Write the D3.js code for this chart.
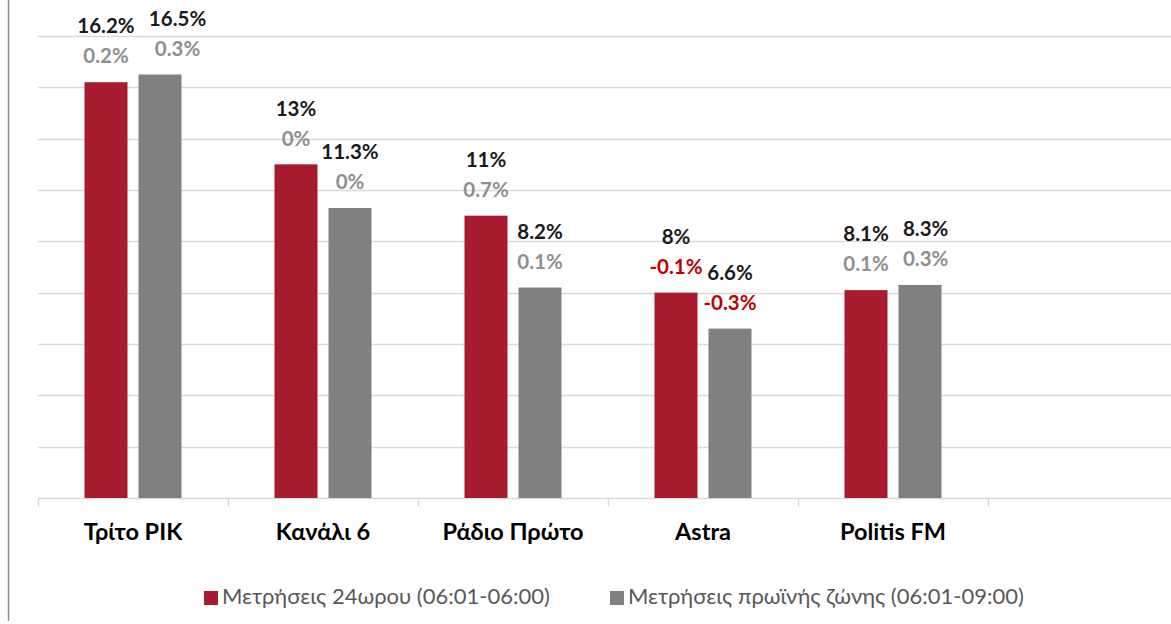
<!DOCTYPE html>
<html>
<head>
<meta charset="utf-8">
<script src="https://cdn.jsdelivr.net/npm/d3@7"></script>
<style>
  body { margin: 0; background: #fff; }
  svg { display: block; font-family: Lato, "Open Sans", sans-serif; }
</style>
</head>
<body>
<svg></svg>
<script>
// chart data
var stations = ["Τρίτο ΡΙΚ", "Κανάλι 6", "Ράδιο Πρώτο", "Astra", "Politis FM", ""];
var seriesNames = ["Μετρήσεις 24ωρου (06:01-06:00)", "Μετρήσεις πρωϊνής ζώνης (06:01-09:00)"];
var dayShare = [16.2, 13, 11, 8, 8.1];
var morningShare = [16.5, 11.3, 8.2, 6.6, 8.3];
var dayChange = [0.2, 0, 0.7, -0.1, 0.1];
var morningChange = [0.3, 0, 0.1, -0.3, 0.3];
var yTicks = [0, 2, 4, 6, 8, 10, 12, 14, 16, 18];

var width = 1171;
var height = 624;
var colors = ["#a81a2e", "#808080"];

var svg = d3.select("svg")
            .attr("width", width)
            .attr("height", height);

var xScale = d3.scaleBand()
                .domain(stations)
                .range([38, 1178]);

var xInner = d3.scaleBand()
                .domain([0, 1])
                .range([46.5, 143.5])
                .paddingInner(0.2037);

var yScale = d3.scaleLinear()
                .domain([0, 18])
                .range([498, 36]);

// frame line on the left
svg.append("line")
    .attr("x1", 8.5).attr("x2", 8.5)
    .attr("y1", 0).attr("y2", 621)
    .attr("stroke", "#8c8c8c")
    .attr("stroke-width", 1.5);

// gridlines
svg.append("g")
    .selectAll("line")
    .data(yTicks)
    .enter()
    .append("line")
        .attr("x1", 38)
        .attr("x2", width)
        .attr("y1", d => Math.round(yScale(d)) + 0.5)
        .attr("y2", d => Math.round(yScale(d)) + 0.5)
        .attr("stroke", "#d9d9d9")
        .attr("stroke-width", 1.5);

// category separators under the axis
svg.append("g")
    .attr("transform", "translate(0," + (Math.round(yScale(0)) + 0.5) + ")")
    .selectAll("line")
    .data(stations)
    .enter()
    .append("line")
        .attr("x1", d => xScale(d) + 0.5)
        .attr("x2", d => xScale(d) + 0.5)
        .attr("y1", 0)
        .attr("y2", 8)
        .attr("stroke", "#d9d9d9")
        .attr("stroke-width", 1.5);

var rows = stations.slice(0, 5).map((s, i) => ({
    station: s,
    values: [
        {k: 0, v: dayShare[i], c: dayChange[i]},
        {k: 1, v: morningShare[i], c: morningChange[i]}
    ]
}));

var groups = svg.selectAll("g.station")
    .data(rows)
    .enter()
    .append("g")
        .attr("class", "station")
        .attr("transform", d => "translate(" + xScale(d.station) + ",0)");

groups.selectAll("rect")
    .data(d => d.values)
    .enter()
    .append("rect")
        .attr("x", d => xInner(d.k))
        .attr("y", d => yScale(d.v))
        .attr("width", xInner.bandwidth())
        .attr("height", d => yScale(0) - yScale(d.v))
        .attr("fill", d => colors[d.k]);

// label pairs (value + change) above each bar
var labels = groups.selectAll("g.lbl")
    .data(d => d.values)
    .enter()
    .append("g")
        .attr("class", "lbl")
        .attr("transform", d => "translate(" + (xInner(d.k) + xInner.bandwidth() / 2) + ",0)");

labels.append("text")
    .attr("class", "val")
    .attr("y", d => yScale(d.v) - 54)
    .attr("text-anchor", "middle")
    .attr("dominant-baseline", "middle")
    .attr("font-size", 20.5)
    .attr("font-weight", "bold")
    .attr("fill", "#1a1a1a")
    .text(d => d.v + "%");

labels.append("text")
    .attr("class", "chg")
    .attr("y", d => yScale(d.v) - 24)
    .attr("text-anchor", "middle")
    .attr("dominant-baseline", "middle")
    .attr("font-size", 20.5)
    .attr("font-weight", "bold")
    .attr("fill", d => d.c < 0 ? "#c00000" : "#8f8f8f")
    .text(d => d.c + "%");

// push the second label pair right when it collides with the first
groups.each(function() {
    var pair = d3.select(this).selectAll("g.lbl").nodes();
    var a = pair[0].querySelector("text.val").getBBox();
    var b = pair[1].querySelector("text.val").getBBox();
    var d0 = d3.select(pair[0]).datum(), d1 = d3.select(pair[1]).datum();
    var ax = xInner(0) + xInner.bandwidth() / 2, bx = xInner(1) + xInner.bandwidth() / 2;
    var closeY = Math.abs(yScale(d0.v) - yScale(d1.v)) < 25;
    var overlap = (ax + a.width / 2 + 14) - (bx - b.width / 2);
    if (closeY && overlap > 0) {
        d3.select(pair[1]).attr("transform", "translate(" + (bx + overlap) + ",0)");
    }
});

// category labels
svg.append("g")
    .selectAll("text")
    .data(stations)
    .enter()
    .append("text")
        .attr("x", d => xScale(d) + xScale.bandwidth() / 2)
        .attr("y", 534)
        .attr("text-anchor", "middle")
        .attr("dominant-baseline", "middle")
        .attr("font-size", 23.5)
        .attr("font-weight", "bold")
        .attr("fill", "#000")
        .text(d => d);

// legend
var legendX = [204, 610];
var legend = svg.append("g")
    .selectAll("g")
    .data(seriesNames)
    .enter()
    .append("g")
        .attr("transform", (d, i) => "translate(" + legendX[i] + ",591)");

legend.append("rect")
    .attr("width", 14)
    .attr("height", 14)
    .attr("fill", (d, i) => colors[i]);

legend.append("text")
    .attr("x", 18)
    .attr("y", 7.5)
    .attr("dominant-baseline", "middle")
    .attr("font-size", 22)
    .attr("fill", "#595959")
    .text(d => d);
</script>
</body>
</html>
